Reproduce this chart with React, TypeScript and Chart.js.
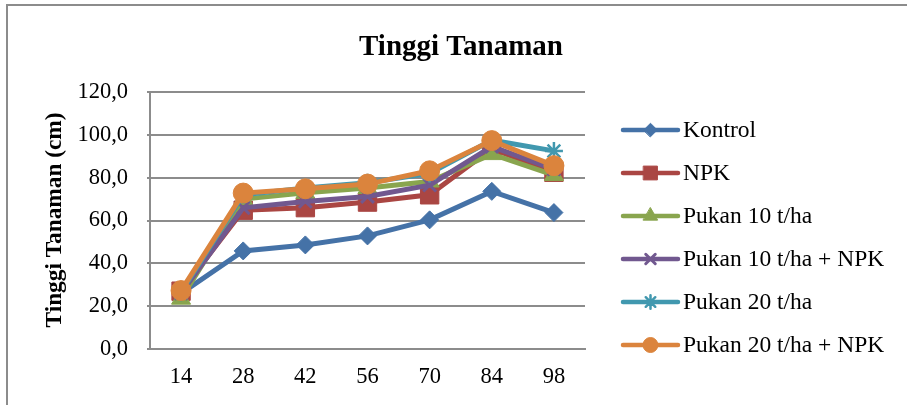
import React, { useEffect, useRef } from "react";
import { Chart, registerables } from "chart.js";
import { drawPoint } from "chart.js/helpers";

Chart.register(...registerables);

const categories = ["14", "28", "42", "56", "70", "84", "98"];
const seriesNames = [
  "Kontrol",
  "NPK",
  "Pukan 10 t/ha",
  "Pukan 10 t/ha + NPK",
  "Pukan 20 t/ha",
  "Pukan 20 t/ha + NPK",
];
const kontrol = [26.0, 45.8, 48.6, 52.8, 60.3, 73.6, 63.7];
const npk = [27.0, 64.8, 66.0, 68.6, 72.0, 93.5, 82.5];
const pukan10 = [23.5, 70.0, 72.9, 75.2, 78.2, 91.0, 81.2];
const pukan10Npk = [26.0, 65.9, 68.9, 71.2, 76.5, 94.5, 84.0];
const pukan20 = [26.5, 72.0, 75.2, 77.6, 82.0, 97.5, 92.5];
const pukan20Npk = [27.3, 72.8, 74.8, 77.0, 83.2, 97.3, 85.6];
const yTicks = [0, 20, 40, 60, 80, 100, 120];
const chartTitle = "Tinggi Tanaman";
const yTitle = "Tinggi Tanaman (cm)";

const colors = ["#4572A7", "#AA4643", "#89A54E", "#71588F", "#4198AF", "#DB843D"];
const pointStyles = ["rectRot", "rect", "triangle", "crossRot", "star", "circle"];
const pointRadii = [9, 13, 11, 9, 9, 10];
const pointBorders = [1, 1, 1, 3, 2.5, 1];

const FONT = '"Liberation Serif", "Times New Roman", serif';

const overlayPlugin = {
  id: "overlay",
  afterDraw(chart: any) {
    const ctx = chart.ctx;
    ctx.save();
    // title
    ctx.fillStyle = "#000";
    ctx.font = `bold 29px ${FONT}`;
    ctx.textAlign = "center";
    ctx.textBaseline = "alphabetic";
    ctx.fillText(chartTitle, 461, 55);
    // y title
    ctx.save();
    ctx.translate(55, 220);
    ctx.rotate(-Math.PI / 2);
    ctx.font = `bold 23.3px ${FONT}`;
    ctx.textBaseline = "middle";
    ctx.fillText(yTitle, 0, 0);
    ctx.restore();
    // legend
    const x0 = 623;
    const x1 = 678;
    chart.data.datasets.forEach((ds: any, i: number) => {
      const y = 130 + i * 43;
      ctx.strokeStyle = ds.borderColor;
      ctx.lineWidth = 4.5;
      ctx.lineCap = "round";
      ctx.beginPath();
      ctx.moveTo(x0, y);
      ctx.lineTo(x1, y);
      ctx.stroke();
      ctx.fillStyle = ds.pointBackgroundColor;
      ctx.strokeStyle = ds.pointBorderColor;
      ctx.lineWidth = ds.pointBorderWidth;
      drawPoint(
        ctx,
        { pointStyle: ds.pointStyle, rotation: 0, radius: ds.pointRadius * 0.75, borderWidth: ds.pointBorderWidth },
        (x0 + x1) / 2,
        y
      );
      ctx.fillStyle = "#000";
      ctx.font = `23.5px ${FONT}`;
      ctx.textAlign = "left";
      ctx.textBaseline = "middle";
      ctx.fillText(ds.label, x1 + 5, y + 1);
    });
    ctx.restore();
  },
};

export default function App() {
  const ref = useRef<HTMLCanvasElement>(null);
  useEffect(() => {
    if (!ref.current) return;
    const all = [kontrol, npk, pukan10, pukan10Npk, pukan20, pukan20Npk];
    const chart = new Chart(ref.current, {
      type: "line",
      data: {
        labels: categories,
        datasets: all.map((d, i) => ({
          label: seriesNames[i],
          data: d,
          borderColor: colors[i],
          backgroundColor: colors[i],
          borderWidth: 5,
          pointStyle: pointStyles[i] as any,
          pointRadius: pointRadii[i],
          pointBackgroundColor: colors[i],
          pointBorderColor: colors[i],
          pointBorderWidth: pointBorders[i],
          tension: 0,
          order: 5 - i,
        })),
      },
      options: {
        animation: false,
        responsive: false,
        maintainAspectRatio: false,
        layout: { padding: { top: 92, right: 322, left: 0, bottom: 0 } },
        plugins: {
          legend: { display: false },
          title: { display: false },
          tooltip: { enabled: false },
        },
        scales: {
          x: {
            offset: true,
            grid: { display: true, drawOnChartArea: false, drawTicks: false, color: "#8c8c8c" },
            border: { display: true, color: "#8c8c8c", width: 2 },
            ticks: { color: "#000", font: { family: FONT, size: 22.5 }, padding: 15 },
            afterFit: (s: any) => {
              s.height = 56;
            },
          },
          y: {
            min: 0,
            max: 120,
            afterBuildTicks: (s: any) => {
              s.ticks = yTicks.map((v) => ({ value: v }));
            },
            grid: { color: "#8c8c8c", lineWidth: 2, tickLength: 3 },
            border: { display: true, color: "#8c8c8c", width: 2 },
            ticks: {
              color: "#000",
              font: { family: FONT, size: 22.5 },
              padding: 19,
              callback: (v: any) => Number(v).toFixed(1).replace(".", ","),
            },
            afterFit: (s: any) => {
              s.width = 150;
            },
          },
        },
      },
      plugins: [overlayPlugin],
    });
    return () => chart.destroy();
  }, []);
  return (
    <div style={{ position: "fixed", left: 0, top: 0, width: 907, height: 405, background: "#fff", overflow: "hidden" }}>
      <div
        style={{
          position: "absolute",
          left: 6,
          top: 4,
          width: 1000,
          height: 600,
          border: "2px solid #8c8c8c",
        }}
      />
      <canvas ref={ref} width={907} height={405} style={{ position: "absolute", left: 0, top: 0, width: 907, height: 405 }} />
    </div>
  );
}
